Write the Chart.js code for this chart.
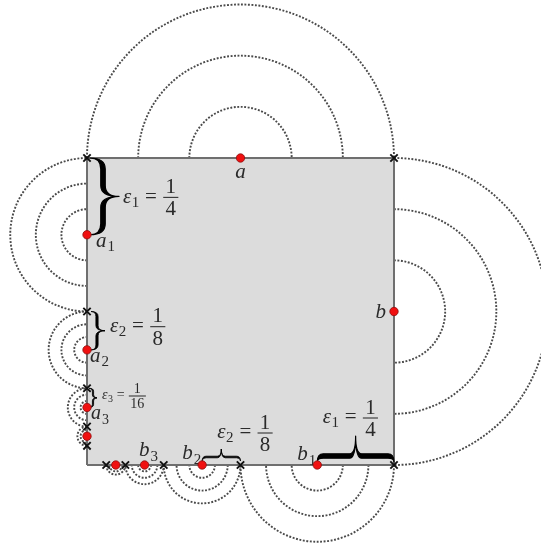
<!DOCTYPE html>
<html>
<head>
<meta charset="utf-8">
<script src="https://cdn.jsdelivr.net/npm/chart.js@4/dist/chart.umd.min.js"></script>
<style>
  html, body { margin: 0; padding: 0; background: #ffffff; }
  canvas { display: block; }
</style>
</head>
<body>
<canvas id="c" width="541" height="544"></canvas>
<script>
// Unit square [0,1]x[0,1]; points sit on its edges, each with a radius epsilon.
const topX = [0.5];            // a on the top edge (y = 1)
const topEps = [0.5];
const rightY = [0.5];          // b on the right edge (x = 1)
const rightEps = [0.5];
const leftY = [0.75, 0.375, 0.1875, 0.09375];     // a1..a4 on the left edge (x = 0)
const leftEps = [0.25, 0.125, 0.0625, 0.03125];
const bottomX = [0.75, 0.375, 0.1875, 0.09375];   // b1..b4 on the bottom edge (y = 0)
const bottomEps = [0.25, 0.125, 0.0625, 0.03125];
const ringShares = [1 / 3, 2 / 3, 1];             // concentric dotted rings per point
const leftCuts = [1, 0.5, 0.25, 0.125, 0.0625];   // interval ends on the left edge
const bottomCuts = [1, 0.5, 0.25, 0.125, 0.0625]; // interval ends on the bottom edge
const cornerCuts = [{ x: 1, y: 1 }];
const epsDen = [4, 8, 16];                         // epsilon_k = 1 / epsDen[k]

const FONT = '"Liberation Serif", "DejaVu Serif", serif';
const INK = '#2a2a2a';

// ---- derived datasets ----
const markPoints = [
  ...topX.map(x => ({ x, y: 1 })),
  ...rightY.map(y => ({ x: 1, y })),
  ...leftY.map(y => ({ x: 0, y })),
  ...bottomX.map(x => ({ x, y: 0 }))
];
const cutPoints = [
  ...leftCuts.map(y => ({ x: 0, y })),
  ...bottomCuts.map(x => ({ x, y: 0 })),
  ...cornerCuts
];

// rings: centre, radius, side facing outwards
const rings = [
  ...topX.map((x, i) => ({ x, y: 1, r: topEps[i], a0: Math.PI, a1: 2 * Math.PI })),
  ...rightY.map((y, i) => ({ x: 1, y, r: rightEps[i], a0: -Math.PI / 2, a1: Math.PI / 2 })),
  ...leftY.map((y, i) => ({ x: 0, y, r: leftEps[i], a0: Math.PI / 2, a1: 1.5 * Math.PI })),
  ...bottomX.map((x, i) => ({ x, y: 0, r: bottomEps[i], a0: 0, a1: Math.PI }))
];

// braces over the intervals (styling in px)
const braceStyle = [
  { side: 'left', k: 0, gap: 3, m: 13, w: 29, q: 11, t: 4.5 },
  { side: 'left', k: 1, gap: 4, m: 6, w: 14, q: 5, t: 2.2 },
  { side: 'left', k: 2, gap: 2, m: 4, w: 8, q: 3, t: 1.2 },
  { side: 'bottom', k: 0, gap: 3, m: 6, w: 26, q: 6, t: 4.5 },
  { side: 'bottom', k: 1, gap: 4, m: 4, w: 12, q: 4, t: 1.6 }
];
// epsilon labels: pixel offset of the epsilon from the brace tip, font size
const noteStyle = [
  { dx: 4, dy: 1, size: 21 },
  { dx: 5, dy: -4, size: 21 },
  { dx: 5, dy: -2, size: 14 },
  { dx: -33, dy: -18, size: 21 },
  { dx: -4, dy: -16, size: 21 }
];
// point names with pixel offsets from the point
const nameStyle = [
  { base: 'a', sub: '', at: () => ({ x: topX[0], y: 1 }), dx: 0, dy: 20, align: 'center', size: 21 },
  { base: 'b', sub: '', at: () => ({ x: 1, y: rightY[0] }), dx: -8, dy: 6, align: 'right', size: 21 },
  { base: 'a', sub: '1', at: () => ({ x: 0, y: leftY[0] }), dx: 9, dy: 12, align: 'left', size: 21 },
  { base: 'a', sub: '2', at: () => ({ x: 0, y: leftY[1] }), dx: 3, dy: 12, align: 'left', size: 21 },
  { base: 'a', sub: '3', at: () => ({ x: 0, y: leftY[2] }), dx: 4, dy: 12, align: 'left', size: 20 },
  { base: 'b', sub: '1', at: () => ({ x: bottomX[0], y: 0 }), dx: -1, dy: -5, align: 'right', size: 21 },
  { base: 'b', sub: '2', at: () => ({ x: bottomX[1], y: 0 }), dx: -1, dy: -6, align: 'right', size: 21 },
  { base: 'b', sub: '3', at: () => ({ x: bottomX[2], y: 0 }), dx: 4, dy: -9, align: 'center', size: 21 }
];

// ---- drawing helpers ----
function px(chart, p) {
  return { x: chart.scales.x.getPixelForValue(p.x), y: chart.scales.y.getPixelForValue(p.y) };
}
function unitPx(chart) {
  return chart.scales.x.getPixelForValue(1) - chart.scales.x.getPixelForValue(0);
}

function braceShape(ctx, P, L, b) {
  const { m, w, q, t } = b;
  const m1 = m - t / 2, m2 = m + t / 2;
  const h = L / 2;
  ctx.beginPath();
  let p = P(0, 0); ctx.moveTo(p.x, p.y);
  let c = P(0, m1), e = P(q, m1); ctx.quadraticCurveTo(c.x, c.y, e.x, e.y);
  e = P(h - q, m1); ctx.lineTo(e.x, e.y);
  c = P(h, m1); e = P(h, w); ctx.quadraticCurveTo(c.x, c.y, e.x, e.y);
  c = P(h, m1); e = P(h + q, m1); ctx.quadraticCurveTo(c.x, c.y, e.x, e.y);
  e = P(L - q, m1); ctx.lineTo(e.x, e.y);
  c = P(L, m1); e = P(L, 0); ctx.quadraticCurveTo(c.x, c.y, e.x, e.y);
  c = P(L, m2); e = P(L - q, m2); ctx.quadraticCurveTo(c.x, c.y, e.x, e.y);
  e = P(h + q, m2); ctx.lineTo(e.x, e.y);
  c = P(h, m2); e = P(h, w); ctx.quadraticCurveTo(c.x, c.y, e.x, e.y);
  c = P(h, m2); e = P(h - q, m2); ctx.quadraticCurveTo(c.x, c.y, e.x, e.y);
  e = P(q, m2); ctx.lineTo(e.x, e.y);
  c = P(0, m2); e = P(0, 0); ctx.quadraticCurveTo(c.x, c.y, e.x, e.y);
  ctx.closePath();
  ctx.fill();
  ctx.stroke();
}

function drawName(ctx, x, y, base, sub, size, align) {
  const subSize = Math.round(size * 0.7);
  ctx.font = `italic ${size}px ${FONT}`;
  const wb = ctx.measureText(base).width;
  ctx.font = `${subSize}px ${FONT}`;
  const ws = sub ? ctx.measureText(sub).width + 1 : 0;
  const total = wb + ws;
  let x0 = x;
  if (align === 'center') x0 = x - total / 2;
  if (align === 'right') x0 = x - total;
  ctx.textAlign = 'left';
  ctx.textBaseline = 'alphabetic';
  ctx.font = `italic ${size}px ${FONT}`;
  ctx.fillText(base, x0, y);
  if (sub) {
    ctx.font = `${subSize}px ${FONT}`;
    ctx.fillText(sub, x0 + wb + 1, y + size * 0.22);
  }
}

function drawEps(ctx, x, axisY, n, den, size) {
  const subSize = Math.round(size * 0.7);
  const base = axisY + size * 0.25;
  ctx.textAlign = 'left';
  ctx.textBaseline = 'alphabetic';
  ctx.font = `italic ${size}px ${FONT}`;
  ctx.fillText('ε', x, base);
  const we = ctx.measureText('ε').width;
  ctx.font = `${subSize}px ${FONT}`;
  ctx.fillText(String(n), x + we + 0.5, base + size * 0.2);
  const wn = ctx.measureText(String(n)).width;
  ctx.font = `${size}px ${FONT}`;
  const eqX = x + we + wn + size * 0.3;
  ctx.fillText('=', eqX, base);
  const wq = ctx.measureText('=').width;
  const fx = eqX + wq + size * 0.3;
  const wNum = ctx.measureText('1').width;
  const wDen = ctx.measureText(String(den)).width;
  const barW = Math.max(wNum, wDen) + size * 0.22;
  const cx = fx + barW / 2;
  ctx.fillRect(fx, axisY - size * 0.025, barW, Math.max(1, size * 0.05));
  ctx.textAlign = 'center';
  ctx.fillText('1', cx, axisY - size * 0.2);
  ctx.fillText(String(den), cx, axisY + size * 0.2 + size * 0.66);
}

const ringsPlugin = {
  id: 'rings',
  beforeDatasetsDraw(chart) {
    const ctx = chart.ctx;
    const u = unitPx(chart);
    ctx.save();
    ctx.strokeStyle = '#4a4a4a';
    ctx.lineWidth = 1.9;
    ctx.setLineDash([1.9, 1.6]);
    rings.forEach(rg => {
      const c = px(chart, rg);
      ringShares.forEach(s => {
        ctx.beginPath();
        ctx.arc(c.x, c.y, rg.r * s * u, rg.a0, rg.a1);
        ctx.stroke();
      });
    });
    ctx.restore();
  }
};

const notesPlugin = {
  id: 'notes',
  afterDatasetDraw(chart, args) {
    if (args.index !== 1) return;   // right after the square outline
    const ctx = chart.ctx;
    ctx.save();
    ctx.fillStyle = '#000000';
    ctx.strokeStyle = '#000000';
    ctx.lineJoin = 'round';
    braceStyle.forEach((b, i) => {
      let A, B, o, uvec, nvec;
      if (b.side === 'left') {
        A = px(chart, { x: 0, y: leftY[b.k] + leftEps[b.k] });
        B = px(chart, { x: 0, y: leftY[b.k] });
        o = { x: A.x + b.gap, y: A.y };
        uvec = { x: 0, y: 1 }; nvec = { x: 1, y: 0 };
      } else {
        A = px(chart, { x: bottomX[b.k], y: 0 });
        B = px(chart, { x: bottomX[b.k] + bottomEps[b.k], y: 0 });
        o = { x: A.x, y: A.y - b.gap };
        uvec = { x: 1, y: 0 }; nvec = { x: 0, y: -1 };
      }
      const L = Math.hypot(B.x - A.x, B.y - A.y);
      const P = (s, v) => ({ x: o.x + s * uvec.x + v * nvec.x, y: o.y + s * uvec.y + v * nvec.y });
      ctx.fillStyle = '#000000';
      ctx.lineWidth = b.t > 3 ? 1.2 : 0.8;
      braceShape(ctx, P, L, b);
      const tip = P(L / 2, b.w);
      const ns = noteStyle[i];
      ctx.fillStyle = INK;
      drawEps(ctx, tip.x + ns.dx, tip.y + ns.dy, b.k + 1, epsDen[b.k], ns.size);
    });
    ctx.fillStyle = INK;
    nameStyle.forEach(n => {
      const p = px(chart, n.at());
      drawName(ctx, p.x + n.dx, p.y + n.dy, n.base, n.sub, n.size, n.align);
    });
    ctx.restore();
  }
};

new Chart(document.getElementById('c'), {
  type: 'scatter',
  data: {
    datasets: [
      { // square fill
        data: [{ x: 0, y: 1 }, { x: 1, y: 1 }],
        showLine: true, fill: 'origin', backgroundColor: '#dcdcdc',
        borderWidth: 0, pointRadius: 0, order: 5
      },
      { // square outline
        data: [{ x: 0, y: 0 }, { x: 1, y: 0 }, { x: 1, y: 1 }, { x: 0, y: 1 }, { x: 0, y: 0 }],
        showLine: true, fill: false, borderColor: '#6f6f6f', borderWidth: 2,
        pointRadius: 0, tension: 0, order: 4
      },
      { // interval ends
        data: cutPoints, pointStyle: 'crossRot', pointRadius: 5.2,
        borderColor: '#111111', borderWidth: 1.9, showLine: false, order: 2
      },
      { // points
        data: markPoints, pointStyle: 'circle', pointRadius: 4.2,
        backgroundColor: '#f01010', borderColor: '#8a1010', borderWidth: 0.8,
        showLine: false, order: 1
      }
    ]
  },
  options: {
    responsive: false,
    animation: false,
    events: [],
    layout: { padding: 0, autoPadding: false },
    plugins: { legend: { display: false }, tooltip: { enabled: false } },
    scales: {
      x: { type: 'linear', min: -87 / 307, max: 454 / 307, display: false },
      y: { type: 'linear', min: -79 / 307, max: 465 / 307, display: false }
    }
  },
  plugins: [ringsPlugin, notesPlugin]
});
</script>
</body>
</html>
